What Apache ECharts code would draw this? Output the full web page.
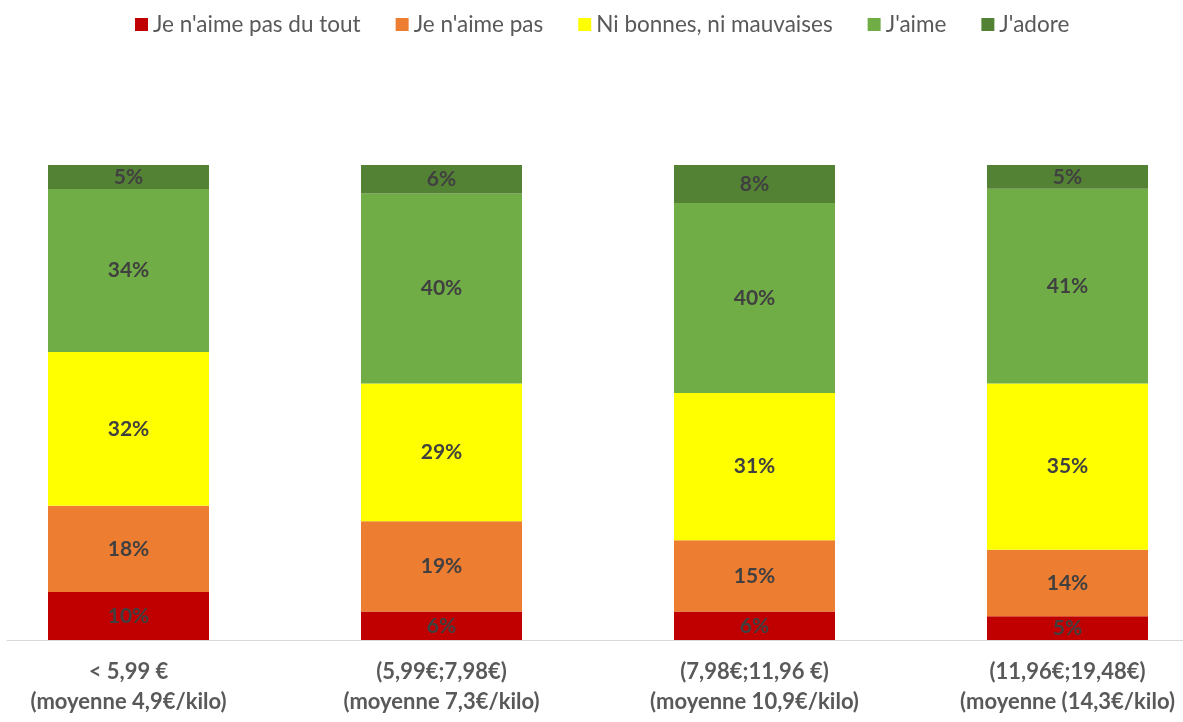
<!DOCTYPE html>
<html>
<head>
<meta charset="utf-8">
<script src="https://cdn.jsdelivr.net/npm/echarts@6/dist/echarts.min.js"></script>
<style>
html,body{margin:0;padding:0;background:#fff;overflow:hidden;width:1183px;height:722px}
#c{width:1252px;height:722px;margin-left:-28px}
</style>
</head>
<body>
<div id="c"></div>
<script>
const categories = [
  "< 5,99 €\n(moyenne 4,9€/kilo)",
  "(5,99€;7,98€)\n(moyenne 7,3€/kilo)",
  "(7,98€;11,96 €)\n(moyenne 10,9€/kilo)",
  "(11,96€;19,48€)\n(moyenne (14,3€/kilo)"
];
const seriesNames = ["Je n'aime pas du tout", "Je n'aime pas", "Ni bonnes, ni mauvaises", "J'aime", "J'adore"];
const jeNaimePasDuTout = [10, 6, 6, 5];
const jeNaimePas = [18, 19, 15, 14];
const niBonnesNiMauvaises = [32, 29, 31, 35];
const jaime = [34, 40, 40, 41];
const jadore = [5, 6, 8, 5];
const colors = ["#C00000", "#ED7D31", "#FFFF00", "#70AD47", "#548235"];

const allSeries = [jeNaimePasDuTout, jeNaimePas, niBonnesNiMauvaises, jaime, jadore];
const totals = categories.map((_, i) => allSeries.reduce((s, a) => s + a[i], 0));

const chart = echarts.init(document.getElementById('c'), null, {renderer: 'canvas'});
const font = 'Lato, "Liberation Sans", sans-serif';

chart.setOption({
  animation: false,
  legend: {
    top: 8,
    left: 158,
    itemWidth: 13,
    itemHeight: 13,
    itemGap: 35,
    icon: 'rect',
    textStyle: {fontFamily: font, fontSize: 22.5, color: '#595959'},
    data: seriesNames
  },
  grid: [
    {left: 0, right: 0, top: 165, bottom: 82, containLabel: false},
    {left: 35, right: 41, top: 165, bottom: 82, containLabel: false}
  ],
  xAxis: [
    {
      type: 'category', gridIndex: 0, data: categories,
      axisLine: {show: false}, axisTick: {show: false},
      axisLabel: {fontFamily: font, fontSize: 22, fontWeight: 'bold', color: '#595959', lineHeight: 30, margin: 17, interval: 0}
    },
    {
      type: 'category', gridIndex: 1, data: categories,
      axisLine: {show: true, lineStyle: {color: '#D9D9D9', width: 1}},
      axisTick: {show: false}, axisLabel: {show: false}
    }
  ],
  yAxis: [
    {type: 'value', gridIndex: 0, min: 0, max: 100, show: false, splitLine: {show: false}},
    {type: 'value', gridIndex: 1, min: 0, max: 100, show: false, splitLine: {show: false}}
  ],
  series: allSeries.map((arr, s) => ({
    name: seriesNames[s],
    type: 'bar',
    stack: 'total',
    xAxisIndex: 0, yAxisIndex: 0,
    barWidth: 161,
    itemStyle: {color: colors[s]},
    data: arr.map((v, i) => v / totals[i] * 100),
    label: {
      show: true,
      position: 'inside',
      fontFamily: font, fontSize: 21, fontWeight: 'bold', color: '#404040',
      formatter: p => arr[p.dataIndex] + '%'
    }
  }))
});
</script>
</body>
</html>
